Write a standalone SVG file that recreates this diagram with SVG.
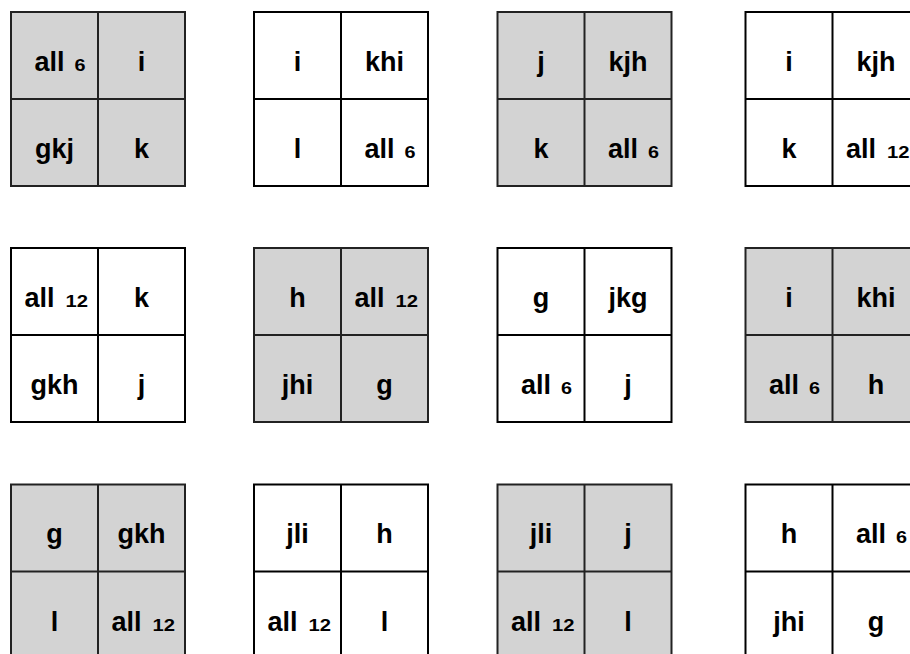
<svg xmlns="http://www.w3.org/2000/svg" width="910" height="654" viewBox="0 0 910 654">
<style>
.g rect{fill:#d3d3d3;stroke:#222;stroke-width:2}
.w rect{fill:#fff;stroke:#000;stroke-width:2}
.g line{stroke:#222;stroke-width:2}
.w line{stroke:#000;stroke-width:2}
text{font-family:"Liberation Sans",Arial,sans-serif;font-weight:bold;fill:#000}
.t{font-size:27px;text-anchor:middle}
.a{font-size:27px}
.s{font-size:17px}
</style>
<rect width="910" height="654" fill="#fff"/>
<g id="connectors"/>
<g id="s1" class="g">
<rect x="11" y="12" width="174" height="174"/><line x1="98" y1="12" x2="98" y2="186"/><line x1="11" y1="99" x2="185" y2="99"/>
<text class="a" x="34.5" y="70.5">all</text><text class="s" x="74.5" y="70.5" textLength="11" lengthAdjust="spacingAndGlyphs">6</text>
<text class="t" x="141.5" y="70.5">i</text><text class="t" x="54.5" y="158">gkj</text><text class="t" x="141.5" y="158">k</text>
</g>
<g id="s2" class="w">
<rect x="254" y="12" width="174" height="174"/><line x1="341" y1="12" x2="341" y2="186"/><line x1="254" y1="99" x2="428" y2="99"/>
<text class="t" x="297.5" y="70.5">i</text><text class="t" x="384.5" y="70.5">khi</text><text class="t" x="297.5" y="158">l</text>
<text class="a" x="364.5" y="158">all</text><text class="s" x="404.5" y="158" textLength="11" lengthAdjust="spacingAndGlyphs">6</text>
</g>
<g id="s3" class="g">
<rect x="497.5" y="12" width="174" height="174"/><line x1="584.5" y1="12" x2="584.5" y2="186"/><line x1="497.5" y1="99" x2="671.5" y2="99"/>
<text class="t" x="541" y="70.5">j</text><text class="t" x="628" y="70.5">kjh</text><text class="t" x="541" y="158">k</text>
<text class="a" x="608" y="158">all</text><text class="s" x="648" y="158" textLength="11" lengthAdjust="spacingAndGlyphs">6</text>
</g>
<g id="s4" class="w">
<rect x="745.5" y="12" width="174" height="174"/><line x1="832.5" y1="12" x2="832.5" y2="186"/><line x1="745.5" y1="99" x2="919.5" y2="99"/>
<text class="t" x="789" y="70.5">i</text><text class="t" x="876" y="70.5">kjh</text><text class="t" x="789" y="158">k</text>
<text class="a" x="846" y="158">all</text><text class="s" x="887" y="158" textLength="22.5" lengthAdjust="spacingAndGlyphs">12</text>
</g>
<g id="s5" class="w">
<rect x="11" y="248" width="174" height="174"/><line x1="98" y1="248" x2="98" y2="422"/><line x1="11" y1="335" x2="185" y2="335"/>
<text class="a" x="24.5" y="306.5">all</text><text class="s" x="65.5" y="306.5" textLength="22.5" lengthAdjust="spacingAndGlyphs">12</text>
<text class="t" x="141.5" y="306.5">k</text><text class="t" x="54.5" y="394">gkh</text><text class="t" x="141.5" y="394">j</text>
</g>
<g id="s6" class="g">
<rect x="254" y="248" width="174" height="174"/><line x1="341" y1="248" x2="341" y2="422"/><line x1="254" y1="335" x2="428" y2="335"/>
<text class="t" x="297.5" y="306.5">h</text>
<text class="a" x="354.5" y="306.5">all</text><text class="s" x="395.5" y="306.5" textLength="22.5" lengthAdjust="spacingAndGlyphs">12</text>
<text class="t" x="297.5" y="394">jhi</text><text class="t" x="384.5" y="394">g</text>
</g>
<g id="s7" class="w">
<rect x="497.5" y="248" width="174" height="174"/><line x1="584.5" y1="248" x2="584.5" y2="422"/><line x1="497.5" y1="335" x2="671.5" y2="335"/>
<text class="t" x="541" y="306.5">g</text><text class="t" x="628" y="306.5">jkg</text>
<text class="a" x="521" y="394">all</text><text class="s" x="561" y="394" textLength="11" lengthAdjust="spacingAndGlyphs">6</text>
<text class="t" x="628" y="394">j</text>
</g>
<g id="s8" class="g">
<rect x="745.5" y="248" width="174" height="174"/><line x1="832.5" y1="248" x2="832.5" y2="422"/><line x1="745.5" y1="335" x2="919.5" y2="335"/>
<text class="t" x="789" y="306.5">i</text><text class="t" x="876" y="306.5">khi</text>
<text class="a" x="769" y="394">all</text><text class="s" x="809" y="394" textLength="11" lengthAdjust="spacingAndGlyphs">6</text>
<text class="t" x="876" y="394">h</text>
</g>
<g id="s9" class="g">
<rect x="11" y="484.5" width="174" height="174"/><line x1="98" y1="484.5" x2="98" y2="658.5"/><line x1="11" y1="571.5" x2="185" y2="571.5"/>
<text class="t" x="54.5" y="543">g</text><text class="t" x="141.5" y="543">gkh</text><text class="t" x="54.5" y="630.5">l</text>
<text class="a" x="111.5" y="630.5">all</text><text class="s" x="152.5" y="630.5" textLength="22.5" lengthAdjust="spacingAndGlyphs">12</text>
</g>
<g id="s10" class="w">
<rect x="254" y="484.5" width="174" height="174"/><line x1="341" y1="484.5" x2="341" y2="658.5"/><line x1="254" y1="571.5" x2="428" y2="571.5"/>
<text class="t" x="297.5" y="543">jli</text><text class="t" x="384.5" y="543">h</text>
<text class="a" x="267.5" y="630.5">all</text><text class="s" x="308.5" y="630.5" textLength="22.5" lengthAdjust="spacingAndGlyphs">12</text>
<text class="t" x="384.5" y="630.5">l</text>
</g>
<g id="s11" class="g">
<rect x="497.5" y="484.5" width="174" height="174"/><line x1="584.5" y1="484.5" x2="584.5" y2="658.5"/><line x1="497.5" y1="571.5" x2="671.5" y2="571.5"/>
<text class="t" x="541" y="543">jli</text><text class="t" x="628" y="543">j</text>
<text class="a" x="511" y="630.5">all</text><text class="s" x="552" y="630.5" textLength="22.5" lengthAdjust="spacingAndGlyphs">12</text>
<text class="t" x="628" y="630.5">l</text>
</g>
<g id="s12" class="w">
<rect x="745.5" y="484.5" width="174" height="174"/><line x1="832.5" y1="484.5" x2="832.5" y2="658.5"/><line x1="745.5" y1="571.5" x2="919.5" y2="571.5"/>
<text class="t" x="789" y="543">h</text>
<text class="a" x="856" y="543">all</text><text class="s" x="896" y="543" textLength="11" lengthAdjust="spacingAndGlyphs">6</text>
<text class="t" x="789" y="630.5">jhi</text><text class="t" x="876" y="630.5">g</text>
</g>
</svg>
